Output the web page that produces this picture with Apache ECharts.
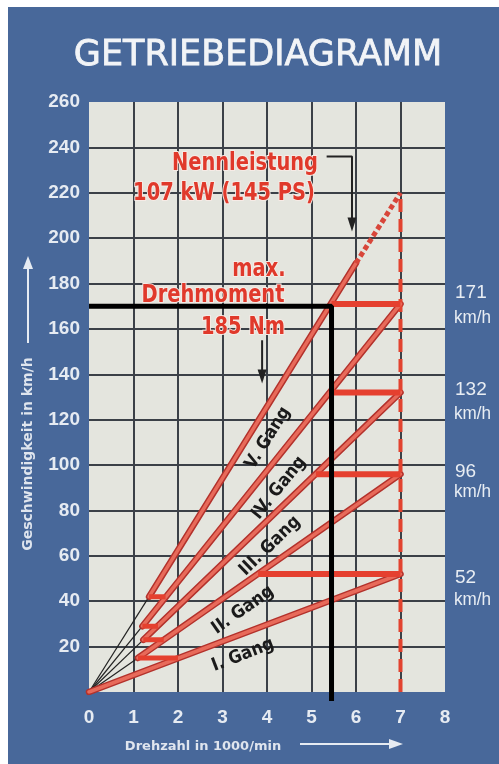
<!DOCTYPE html>
<html lang="de">
<head>
    <meta charset="UTF-8">
    <title>Getriebediagramm</title>
    <style>
        html, body { margin: 0; padding: 0; background: #ffffff; }
        #chart { width: 499px; height: 764px; }
    </style>
</head>
<body>
<div id="chart"></div>
<script src="https://cdn.jsdelivr.net/npm/echarts@6/dist/echarts.min.js"></script>
<script>
    // Drehzahl (1000/min) und Geschwindigkeit (km/h)
    var rpmMin = 0, rpmMax = 8, rpmStep = 1;
    var speedMin = 0, speedMax = 260, speedStep = 20;

    var gears = ['I. Gang', 'II. Gang', 'III. Gang', 'IV. Gang', 'V. Gang'];
    var redlineRpm = 7;
    var topSpeed = [52, 96, 132, 171, 220];          // bei 7000/min
    var gearStartRpm = [0, 1.1, 1.22, 1.2, 1.35];     // Beginn der roten Linie
    var gearStartSpeed = [0, 15, 23, 29, 42];
    var downshiftToRpm = [2.0, 1.68, 1.55, 1.72];     // Ruecksprung in den kleineren Gang
    var upshiftSpeed = [52, 96, 132, 171];
    var upshiftLandRpm = [3.8, 5.1, 5.4, 5.45];
    var ratedRpm = 6.0, ratedSpeed = 189;              // Ende V. Gang durchgezogen
    var markSpeed = 170, markRpm = 5.45, markBottom = -4; // schwarzer Stift
    var powerArrow = [[5.34, 236], [5.91, 236], [5.91, 206]];
    var torqueArrow = [[3.89, 155], [3.89, 139]];
    var rightLabels = ['171', '132', '96', '52'];

    var condensed = "'DejaVu Sans Condensed', 'Liberation Sans Narrow', 'DejaVu Sans', sans-serif";
    var red = '#e0392b';

    function seg(data, style, z, extra) {
        var s = {
            type: 'line', data: data, symbol: 'none', silent: true,
            animation: false, z: z || 2, lineStyle: style
        };
        for (var k in extra) s[k] = extra[k];
        return s;
    }

    var series = [];
    // schwarze Hilfslinien vom Nullpunkt
    for (var g = 1; g < gears.length; g++) {
        series.push(seg([[0, 0], [gearStartRpm[g], gearStartSpeed[g]]], {color: '#222', width: 1.2}, 2));
    }
    // rote Gangkennlinien (Rand + Kern)
    for (g = 0; g < gears.length; g++) {
        var end = g < gears.length - 1 ? [redlineRpm, topSpeed[g]] : [ratedRpm, ratedSpeed];
        var pts = [[gearStartRpm[g], gearStartSpeed[g]], end];
        series.push(seg(pts, {color: '#b3322c', width: 6.5, cap: 'round'}, 3));
        series.push(seg(pts, {color: '#e86a5a', width: 3.5, cap: 'round'}, 4));
    }
    // gestrichelte Verlaengerung V. Gang
    series.push(seg([[ratedRpm, ratedSpeed], [redlineRpm, topSpeed[4]]],
        {color: '#d8463a', width: 5, type: [5, 3]}, 4));
    // rote gestrichelte Drehzahlgrenze
    series.push(seg([[redlineRpm, 0], [redlineRpm, topSpeed[4]]],
        {color: '#e2432f', width: 4, type: [13, 7]}, 3));
    // Schaltspruenge
    for (var i = 0; i < upshiftSpeed.length; i++) {
        series.push(seg([[upshiftLandRpm[i], upshiftSpeed[i]], [redlineRpm, upshiftSpeed[i]]],
            {color: '#e5402f', width: 6}, 5));
        series.push(seg([[gearStartRpm[i + 1], gearStartSpeed[i + 1]], [downshiftToRpm[i], gearStartSpeed[i + 1]]],
            {color: '#e5402f', width: 5}, 5));
    }
    // schwarzer Stiftstrich
    series.push(seg([[0, markSpeed], [markRpm, markSpeed], [markRpm, markBottom]],
        {color: '#000', width: 5}, 8, {clip: false}));
    // Pfeile
    function arrowData(pts) {
        return pts.map(function (p, j) {
            if (j < pts.length - 1) return {value: p, symbol: 'none'};
            return {value: p, symbol: 'triangle', symbolSize: [9, 14], symbolRotate: 180,
                itemStyle: {color: '#222'}};
        });
    }
    series.push(seg(arrowData(powerArrow), {color: '#222', width: 2}, 6, {showSymbol: true}));
    series.push(seg(arrowData(torqueArrow), {color: '#222', width: 2}, 6, {showSymbol: true}));

    function txt(x, y, text, font, fill, extra) {
        var e = {
            type: 'text', x: x, y: y, silent: true, z: 20,
            style: {text: text, font: font, fill: fill, textAlign: 'center', textVerticalAlign: 'middle'}
        };
        for (var k in extra) {
            if (k === 'style') { for (var s in extra.style) e.style[s] = extra.style[s]; }
            else e[k] = extra[k];
        }
        return e;
    }
    var deg = Math.PI / 180;
    var redFont = 'bold 24px ' + condensed;
    var redExtra = {scaleX: 0.9, style: {stroke: '#f6ebe6', lineWidth: 2}};
    var gearFont = 'bold 18px ' + condensed;
    var graphics = [
        {type: 'rect', shape: {x: 8, y: 7, width: 491, height: 757}, style: {fill: '#48689a'}, z: -10, silent: true},
        txt(258, 56, 'GETRIEBEDIAGRAMM', "35px 'DejaVu Sans', sans-serif", '#f2f4f7',
            {style: {stroke: '#f2f4f7', lineWidth: 0.8}}),
        txt(245, 164, 'Nennleistung', redFont, red, redExtra),
        txt(224, 194, '107 kW (145 PS)', redFont, red, redExtra),
        txt(259, 270, 'max.', redFont, red, redExtra),
        txt(213, 296, 'Drehmoment', redFont, red, redExtra),
        txt(243, 328, '185 Nm', redFont, red, redExtra),
        txt(268, 438, gears[4], gearFont, '#1a1a1a', {rotation: 58 * deg}),
        txt(279, 488, gears[3], gearFont, '#1a1a1a', {rotation: 51 * deg}),
        txt(270, 546, gears[2], gearFont, '#1a1a1a', {rotation: 44 * deg}),
        txt(243, 610, gears[1], gearFont, '#1a1a1a', {rotation: 35 * deg}),
        txt(243, 655, gears[0], gearFont, '#1a1a1a', {rotation: 21 * deg}),
        txt(28, 454, 'Geschwindigkeit in km/h', "bold 14px 'DejaVu Sans', sans-serif", '#dfe5ee', {rotation: 90 * deg}),
        txt(203, 747, 'Drehzahl in 1000/min', "bold 13px 'DejaVu Sans', sans-serif", '#dfe5ee'),
        {type: 'line', shape: {x1: 28, y1: 343, x2: 28, y2: 266}, style: {stroke: '#e6ebf2', lineWidth: 2}, silent: true},
        {type: 'polygon', shape: {points: [[28, 256], [23, 269], [33, 269]]}, style: {fill: '#e6ebf2'}, silent: true},
        {type: 'line', shape: {x1: 300, y1: 744, x2: 392, y2: 744}, style: {stroke: '#e6ebf2', lineWidth: 2}, silent: true},
        {type: 'polygon', shape: {points: [[403, 744], [389, 739], [389, 749]]}, style: {fill: '#e6ebf2'}, silent: true}
    ];
    var rightY = [[293, 318], [390, 414], [472, 492], [578, 600]];
    for (i = 0; i < rightLabels.length; i++) {
        graphics.push(txt(455, rightY[i][0], rightLabels[i], "19px 'Liberation Sans', sans-serif", '#e8edf3',
            {style: {textAlign: 'left'}}));
        graphics.push(txt(454, rightY[i][1], 'km/h', "18px 'Liberation Sans', sans-serif", '#e8edf3',
            {scaleX: 0.95, style: {textAlign: 'left'}}));
    }

    var chart = echarts.init(document.getElementById('chart'), null, {renderer: 'canvas'});
    chart.setOption({
        backgroundColor: '#ffffff',
        animation: false,
        grid: {left: 89, right: 54, top: 102, bottom: 72, show: true,
            backgroundColor: '#e4e5de', borderWidth: 0},
        xAxis: {
            type: 'value', min: rpmMin, max: rpmMax, interval: rpmStep,
            axisLine: {show: false}, axisTick: {show: false},
            axisLabel: {color: '#e6ebf2', fontSize: 19, fontWeight: 'bold', margin: 16,
                fontFamily: "'Liberation Sans', sans-serif"},
            splitLine: {show: true, showMinLine: false, showMaxLine: false,
                lineStyle: {color: '#3b4047', width: 2}}
        },
        yAxis: {
            type: 'value', min: speedMin, max: speedMax, interval: speedStep,
            axisLine: {show: false}, axisTick: {show: false},
            axisLabel: {color: '#e6ebf2', fontSize: 19, fontWeight: 'bold', margin: 9,
                showMinLabel: false, fontFamily: "'Liberation Sans', sans-serif"},
            splitLine: {show: true, showMinLine: false, showMaxLine: false,
                lineStyle: {color: '#3b4047', width: 2}}
        },
        series: series,
        graphic: graphics
    });
</script>
</body>
</html>
